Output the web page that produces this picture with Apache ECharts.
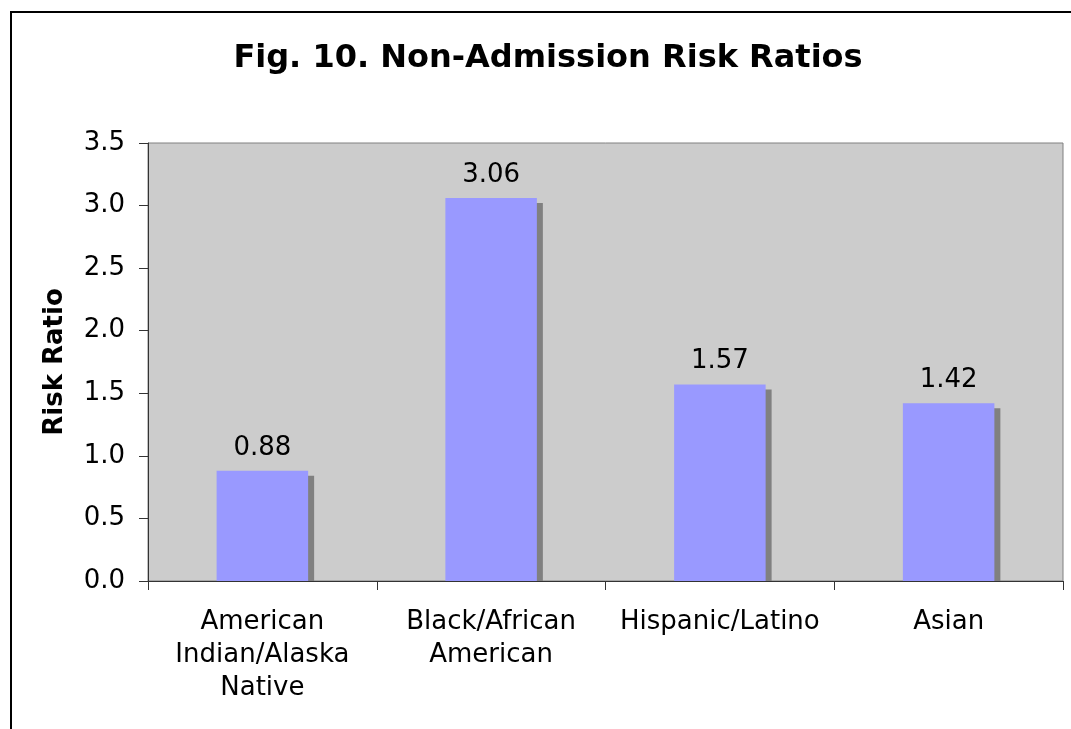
<!DOCTYPE html>
<html>
<head>
<meta charset="utf-8">
<script src="https://cdn.jsdelivr.net/npm/echarts@6/dist/echarts.min.js"></script>
<style>
html,body{margin:0;padding:0;background:#fff;}
#chart{width:1071px;height:729px;}
</style>
</head>
<body>
<div id="chart"></div>
<script>
const titleText = 'Fig. 10. Non-Admission Risk Ratios';
const categories = ['American\nIndian/Alaska\nNative', 'Black/African\nAmerican', 'Hispanic/Latino', 'Asian'];
const riskRatios = [0.88, 3.06, 1.57, 1.42];
const yTicks = [0, 0.5, 1.0, 1.5, 2.0, 2.5, 3.0, 3.5];
const yAxisTitle = 'Risk Ratio';

const FONT = '"DejaVu Sans", Verdana, sans-serif';
const chart = echarts.init(document.getElementById('chart'));
const BAR_FRAC = 0.40;

chart.setOption({
  animation: false,
  backgroundColor: '#ffffff',
  title: {
    text: titleText,
    left: 543,
    top: 38,
    textAlign: 'center',
    textStyle: {fontFamily: FONT, fontWeight: 'bold', fontSize: 32, color: '#000'}
  },
  graphic: [{
    type: 'rect',
    shape: {x: 11, y: 12, width: 1200, height: 1000},
    style: {fill: 'none', stroke: '#000', lineWidth: 2},
    silent: true, z: 100
  }],
  grid: {
    left: 148, top: 143, right: 8, bottom: 148,
    show: true, backgroundColor: '#CCCCCC', borderColor: '#808080', borderWidth: 1
  },
  xAxis: {
    type: 'category',
    data: categories,
    boundaryGap: true,
    axisLine: {show: true, lineStyle: {color: '#333', width: 1}},
    axisTick: {show: true, alignWithLabel: false, length: 9, lineStyle: {color: '#333'}},
    axisLabel: {fontFamily: FONT, fontSize: 26, color: '#000', lineHeight: 33, margin: 25, interval: 0},
    splitLine: {show: false},
    z: 10
  },
  yAxis: {
    type: 'value',
    min: yTicks[0],
    max: yTicks[yTicks.length - 1],
    interval: 0.5,
    name: yAxisTitle,
    nameLocation: 'middle',
    nameGap: 80,
    nameTextStyle: {fontFamily: FONT, fontWeight: 'bold', fontSize: 26, color: '#000'},
    axisLine: {show: true, lineStyle: {color: '#333', width: 1}},
    axisTick: {show: true, length: 9, lineStyle: {color: '#333'}},
    axisLabel: {fontFamily: FONT, fontSize: 26, color: '#000', margin: 23,
      formatter: v => v.toFixed(1)},
    splitLine: {show: false},
    z: 10
  },
  series: [
    {
      type: 'custom',
      name: 'shadow',
      z: 1,
      silent: true,
      data: riskRatios.map((v, i) => [i, v]),
      renderItem: function (params, api) {
        const top = api.coord([api.value(0), api.value(1)]);
        const base = api.coord([api.value(0), 0]);
        const w = api.size([1, 0])[0] * BAR_FRAC;
        const x = top[0] - w / 2 + 6;
        const y = top[1] + 5;
        return {
          type: 'rect',
          shape: {x: x, y: y, width: w, height: Math.max(0, base[1] - y)},
          style: {fill: '#808080'}
        };
      }
    },
    {
      type: 'bar',
      name: 'Risk Ratio',
      z: 2,
      data: riskRatios,
      barWidth: (BAR_FRAC * 100) + '%',
      itemStyle: {color: '#9999FF'},
      label: {
        show: true, position: 'top', distance: 10,
        fontFamily: FONT, fontSize: 26, color: '#000',
        formatter: p => p.value.toFixed(2)
      }
    }
  ]
});
</script>
</body>
</html>
